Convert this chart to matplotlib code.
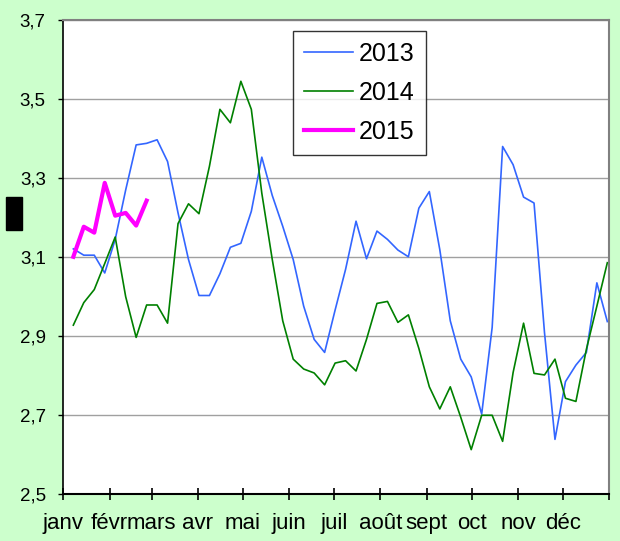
import matplotlib
matplotlib.use('Agg')
import matplotlib.pyplot as plt
from matplotlib import font_manager
from matplotlib.patches import Rectangle
import numpy as np

# weekly values, one per week (week 1..52)
y2013 = [3.121, 3.105, 3.105, 3.06, 3.145, 3.27, 3.384, 3.388, 3.397, 3.342,
         3.212, 3.094, 3.003, 3.003, 3.058, 3.125, 3.135, 3.216, 3.353, 3.256,
         3.178, 3.094, 2.976, 2.892, 2.859, 2.966, 3.069, 3.191, 3.096, 3.166,
         3.145, 3.118, 3.101, 3.224, 3.266, 3.119, 2.939, 2.842, 2.797, 2.703,
         2.922, 3.38, 3.334, 3.252, 3.237, 2.909, 2.639, 2.785, 2.827, 2.859,
         3.035, 2.937]
y2014 = [2.928, 2.985, 3.018, 3.084, 3.151, 3.0, 2.897, 2.979, 2.979, 2.933,
         3.185, 3.235, 3.21, 3.33, 3.474, 3.44, 3.545, 3.474, 3.262, 3.094,
         2.939, 2.842, 2.817, 2.807, 2.777, 2.832, 2.838, 2.812, 2.892, 2.983,
         2.988, 2.935, 2.954, 2.869, 2.772, 2.716, 2.772, 2.695, 2.613, 2.70,
         2.70, 2.634, 2.808, 2.933, 2.806, 2.802, 2.842, 2.743, 2.735, 2.867,
         2.976, 3.086]
y2015 = [3.101, 3.177, 3.162, 3.288, 3.205, 3.212, 3.18, 3.243]

months = ['janv', 'févr', 'mars', 'avr', 'mai', 'juin', 'juil', 'août',
          'sept', 'oct', 'nov', 'déc']
month_days = [31, 28, 31, 30, 31, 30, 31, 31, 30, 31, 30, 31]
yticks = [2.5, 2.7, 2.9, 3.1, 3.3, 3.5, 3.7]

names = {f.name for f in font_manager.fontManager.ttflist}
base = 'Liberation Sans' if 'Liberation Sans' in names else 'DejaVu Sans'
narrow = 'Liberation Sans Narrow' if 'Liberation Sans Narrow' in names else base
plt.rcParams['font.family'] = base

bg = '#ccffcc'
fig = plt.figure(figsize=(6.2, 5.41), dpi=100, facecolor=bg)
ax = fig.add_axes([0.1021, 0.0863, 0.8806, 0.8767])

def days(vals):
    return 7 * np.arange(1, len(vals) + 1) - 0.3

ax.plot(days(y2013), y2013, color='#3366ff', lw=1.2, label='2013')
ax.plot(days(y2014), y2014, color='#008000', lw=1.2, label='2014')
ax.plot(days(y2015), y2015, color='#ff00ff', lw=3, label='2015')

edges = np.concatenate([[0], np.cumsum(month_days)])
ax.set_xlim(0, edges[-1])
ax.set_ylim(2.5, 3.7)
ax.set_xticks(edges)
ax.set_xticklabels(months + [''], family=narrow, fontsize=16)
ax.set_yticks(yticks)
ax.set_yticklabels([f'{v:.1f}'.replace('.', ',') for v in yticks], fontsize=13.5)
ax.tick_params(axis='x', direction='inout', length=8.5, width=1.2, pad=9)
ax.tick_params(axis='y', direction='out', length=3.6, width=1.0, pad=9)
ax.grid(axis='y', color='#a0a0a0', lw=1)
ax.set_axisbelow(True)

for s in ['top', 'right']:
    ax.spines[s].set_color('#808080')
    ax.spines[s].set_linewidth(1.5)
ax.spines['left'].set_linewidth(1.2)
ax.spines['bottom'].set_linewidth(1.5)

leg = ax.legend(loc='upper left', bbox_to_anchor=(0.4207, 0.9775),
                borderaxespad=0, fontsize=18, frameon=True, fancybox=False,
                edgecolor='black', handlelength=1.95, labelspacing=0.6,
                borderpad=0.45, handletextpad=0.25)
leg.get_frame().set_linewidth(1.0)

# black block left of the y axis
fig.patches.append(Rectangle((6 / 620, 1 - 230 / 541), 16 / 620, 33 / 541,
                             transform=fig.transFigure, color='black'))

fig.savefig('out.png', dpi=100, facecolor=bg)
